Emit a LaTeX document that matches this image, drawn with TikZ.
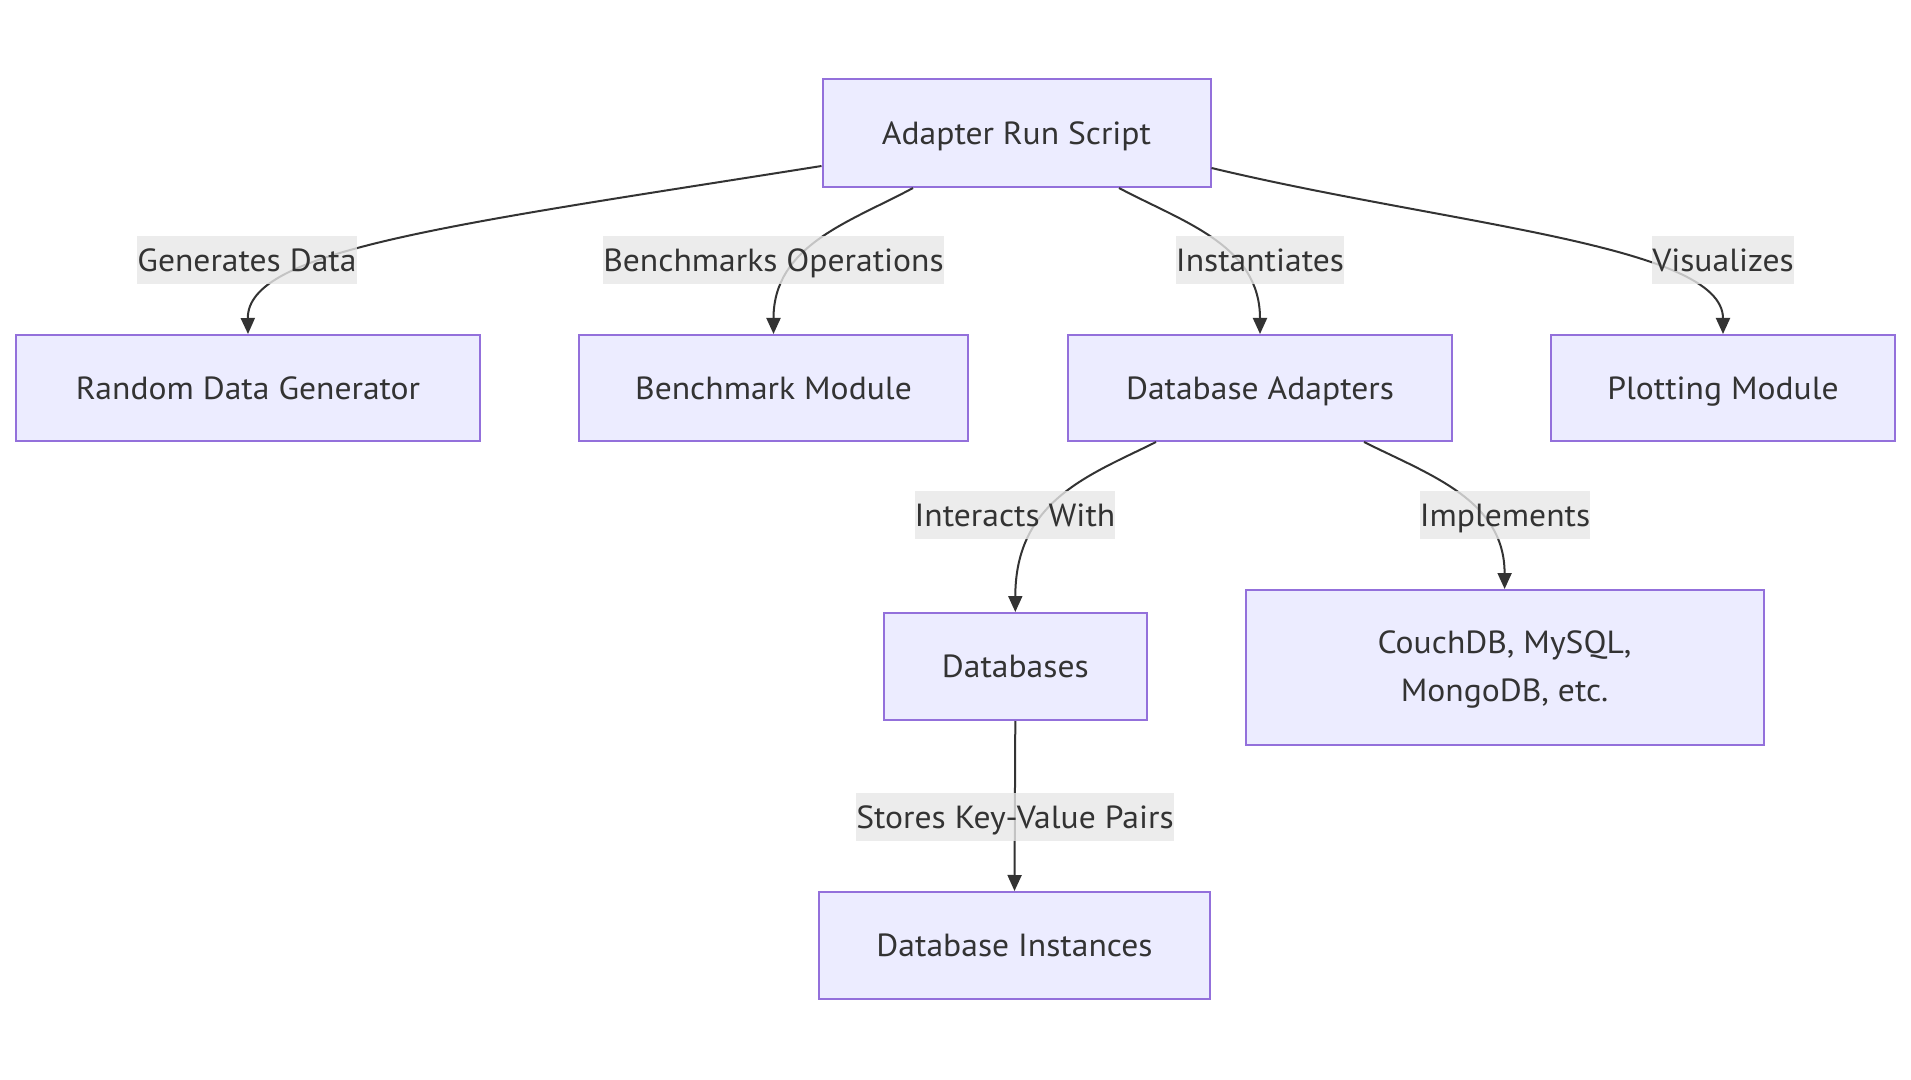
\documentclass[tikz,border=0pt]{standalone}
\usepackage{fontspec}
\setmainfont[FakeStretch=1.05]{PT Sans}
\usetikzlibrary{arrows.meta}
\definecolor{nodefill}{HTML}{ECECFF}
\definecolor{nodeline}{HTML}{9370DB}
\definecolor{txt}{HTML}{333333}
\definecolor{lblbg}{HTML}{E8E8E8}
\begin{document}
\begin{tikzpicture}[x=0.5pt,y=-0.5pt,
 box/.style={draw=nodeline, fill=nodefill, line width=1pt, text=txt, font=\fontsize{16}{24}\selectfont, align=center, inner sep=0pt},
 sline/.style={text height=13.2pt, text depth=1.8pt},
 lbl/.style={fill=lblbg, fill opacity=0.8, text opacity=1, text=txt, font=\fontsize{16}{18}\selectfont, inner xsep=0pt, inner ysep=4.5pt, text height=13.2pt, text depth=1.8pt},
 arr/.style={draw=txt, line width=1pt, -{Triangle[length=8pt,width=7pt]}}]
\useasboundingbox[fill=white] (0,0) rectangle (1911,1080);
\node[box, sline, minimum width=194pt, minimum height=54pt] (ars) at (1016.5,133) {Adapter Run Script};
\node[box, sline, minimum width=232pt, minimum height=53pt] (rdg) at (248,388) {Random Data Generator};
\node[box, sline, minimum width=194.5pt, minimum height=53pt] (bm) at (773.5,388) {Benchmark Module};
\node[box, sline, minimum width=192pt, minimum height=53pt] (da) at (1260,388) {Database Adapters};
\node[box, sline, minimum width=171.75pt, minimum height=53pt] (pm) at (1723,388) {Plotting Module};
\node[box, sline, minimum width=131.7pt, minimum height=53.5pt] (db) at (1015.3,666.5) {Databases};
\node[box, minimum width=259pt, minimum height=77.5pt] (cdb) at (1504.6,667.5) {\rule{0pt}{13.5pt}CouchDB, MySQL,\\MongoDB, etc.};
\node[box, sline, minimum width=195.5pt, minimum height=53.5pt] (dbi) at (1014.5,945.5) {Database Instances};
\draw[arr] (ars.west |- 0,166) .. controls (450,225) and (247,250) .. (rdg.north);
\draw[arr] (ars.south -| 913,0) .. controls (850,222) and (773.5,245) .. (bm.north);
\draw[arr] (ars.south -| 1119,0) .. controls (1183,222) and (1260,245) .. (da.north);
\draw[arr] (ars.east |- 0,168) .. controls (1450,225) and (1723,245) .. (pm.north);
\draw[arr] (da.south -| 1156,0) .. controls (1090,475) and (1015.3,500) .. (db.north);
\draw[arr] (da.south -| 1364,0) .. controls (1430,475) and (1504.6,500) .. (cdb.north);
\draw[arr] (db.south) -- (dbi.north);
\node[lbl] (l1) at (247,260) {Generates Data};
\node[lbl] (l2) at (773.5,260) {Benchmarks Operations};
\node[lbl] (l3) at (1260,260) {Instantiates};
\node[lbl] (l4) at (1723,260) {Visualizes};
\node[lbl] (l5) at (1015,515) {Interacts With};
\node[lbl] (l6) at (1505,515) {Implements};
\node[lbl] (l7) at (1015,817) {Stores Key-Value Pairs};
\end{tikzpicture}
\end{document}
